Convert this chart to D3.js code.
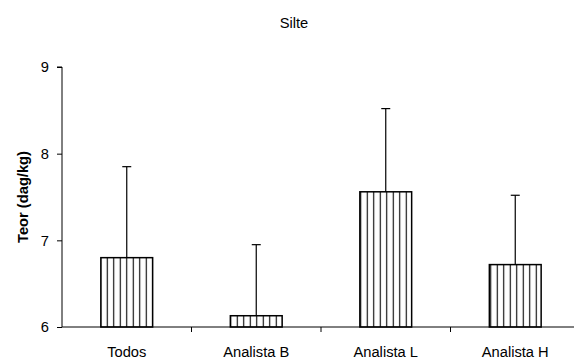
<!DOCTYPE html>
<html>
<head>
<meta charset="utf-8">
<script src="https://cdn.jsdelivr.net/npm/d3@7"></script>
<style>
  body { margin: 0; background: #fff; }
  svg { display: block; font-family: "Liberation Sans", Arial, sans-serif; }
</style>
</head>
<body>
<svg id="chart" width="574" height="360"></svg>
<script>
// Silt content by analyst: mean and upper standard deviation bound
const categories = ["Todos", "Analista B", "Analista L", "Analista H"];
const means = [6.80, 6.13, 7.56, 6.72];
const upperBounds = [7.85, 6.95, 8.52, 7.52];
const yTicks = [6, 7, 8, 9];

const svg = d3.select("#chart");
const margin = { left: 62, top: 67, right: -6, bottom: 33 };
const W = 574, H = 360;
const FS = 14.7;

const x = d3.scaleBand()
  .domain(categories)
  .range([margin.left, W - margin.right])
  .paddingInner(0.6)
  .paddingOuter(0.3);
// boundaries between categories for tick marks
const xOuter = d3.scaleBand().domain(categories).range([margin.left, W - margin.right]);

const y = d3.scaleLinear().domain([6, 9]).range([H - margin.bottom, margin.top]);

// hatch pattern: vertical stripes
const defs = svg.append("defs");
const pat = defs.append("pattern")
  .attr("id", "vstripes")
  .attr("patternUnits", "userSpaceOnUse")
  .attr("width", 6.5).attr("height", 10);
pat.append("rect").attr("width", 6.5).attr("height", 10).attr("fill", "#fff");
pat.append("line").attr("x1", 3.25).attr("x2", 3.25).attr("y1", 0).attr("y2", 10)
  .attr("stroke", "#000").attr("stroke-width", 1.1);

// title
svg.append("text").attr("x", 294).attr("y", 28)
  .attr("text-anchor", "middle").attr("font-size", FS).text("Silte");

// y axis
const yAxis = svg.append("g").attr("transform", `translate(${margin.left},0)`)
  .call(d3.axisLeft(y).tickValues(yTicks).tickSize(5).tickPadding(8).tickFormat(d3.format("d")));
yAxis.selectAll("text").attr("font-size", FS).attr("font-family", "Liberation Sans, Arial, sans-serif").attr("fill", "#000");
yAxis.selectAll("line, path").attr("stroke", "#000");
yAxis.select(".domain").attr("d", `M-5,${y(9)}H0V${y(6)}`);

svg.append("text")
  .attr("transform", `translate(28,${(y(6) + y(9)) / 2}) rotate(-90)`)
  .attr("text-anchor", "middle").attr("font-size", FS).attr("font-weight", "bold")
  .text("Teor (dag/kg)");

// bars
svg.append("g").selectAll("rect").data(categories).join("rect")
  .attr("x", d => x(d))
  .attr("width", x.bandwidth())
  .attr("y", (d, i) => y(means[i]))
  .attr("height", (d, i) => y(6) - y(means[i]))
  .attr("fill", "url(#vstripes)")
  .attr("stroke", "#000").attr("stroke-width", 1.5);

// error bars
const eb = svg.append("g").attr("stroke", "#000").attr("stroke-width", 1.2);
categories.forEach((c, i) => {
  const cx = x(c) + x.bandwidth() / 2;
  eb.append("line").attr("x1", cx).attr("x2", cx).attr("y1", y(means[i])).attr("y2", y(upperBounds[i]));
  eb.append("line").attr("x1", cx - 4.5).attr("x2", cx + 4.5).attr("y1", y(upperBounds[i])).attr("y2", y(upperBounds[i]));
});

// x axis
const xg = svg.append("g").attr("transform", `translate(0,${y(6)})`);
xg.append("line").attr("x1", margin.left).attr("x2", W).attr("stroke", "#000");
categories.slice(1).forEach(c => {
  const bx = xOuter(c);
  xg.append("line").attr("x1", bx).attr("x2", bx).attr("y1", 0).attr("y2", 5).attr("stroke", "#000");
});
xg.selectAll("text.cat").data(categories).join("text")
  .attr("class", "cat")
  .attr("x", d => xOuter(d) + xOuter.bandwidth() / 2)
  .attr("y", 30)
  .attr("text-anchor", "middle").attr("font-size", FS)
  .text(d => d);
</script>
</body>
</html>
